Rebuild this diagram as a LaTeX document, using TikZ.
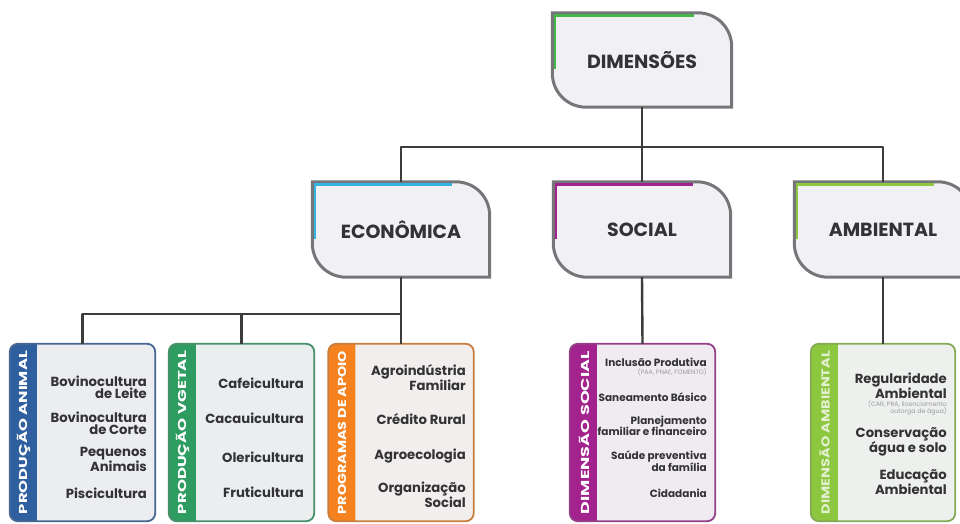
\documentclass[tikz,border=0pt]{standalone}
\usepackage{fontspec}
\usepackage{graphicx}
\setmainfont{Poppins}
\usetikzlibrary{backgrounds}
\definecolor{texto}{HTML}{333335}
\definecolor{cinzalinha}{HTML}{3C3C3C}
\definecolor{cinzaborda}{HTML}{75767A}
\definecolor{fundo}{HTML}{F1F1F3}
\definecolor{cinzanota}{HTML}{9A9A9E}
\definecolor{verdedim}{HTML}{45B649}
\definecolor{azuleco}{HTML}{34B3E0}
\definecolor{roxosoc}{HTML}{A3238E}
\definecolor{limaamb}{HTML}{8DC63F}
\definecolor{azulani}{HTML}{2F5F9E}
\definecolor{verdeveg}{HTML}{2E9C60}
\definecolor{laranja}{HTML}{F5821F}
% folha: caixa com dois cantos arredondados
\newcommand\folha[2]{%
\path[fill=fundo, draw=cinzaborda, line width=3pt]
(#1.north west) -- ([xshift=-34pt]#1.north east)
.. controls ([xshift=-15pt]#1.north east) and ([yshift=-15pt]#1.north east) .. ([yshift=-34pt]#1.north east)
-- (#1.south east) -- ([xshift=34pt]#1.south west)
.. controls ([xshift=15pt]#1.south west) and ([yshift=15pt]#1.south west) .. ([yshift=34pt]#1.south west)
-- cycle;
\draw[#2, line width=2.6pt] ([shift={(2.6pt,38pt)}]#1.south west) -- ([shift={(2.6pt,-2.6pt)}]#1.north west) -- ([shift={(-38pt,-2.6pt)}]#1.north east);}
% caixa de baixo com faixa colorida
\newcommand\caixa[2]{%
\fill[#2!3!fundo, rounded corners=8pt] (#1.north west) rectangle (#1.south east);
\begin{scope}
\clip (#1.north west) rectangle ([xshift=27pt]#1.south west);
\fill[#2, rounded corners=8pt] (#1.north west) rectangle (#1.south east);
\end{scope}
\draw[#2!65!cinzaborda, line width=1.8pt, rounded corners=8pt] (#1.north west) rectangle (#1.south east);}
\newcommand\faixa[1]{\rotatebox{90}{\resizebox{163pt}{\height}{\fontsize{11.5}{11.5}\selectfont\bfseries #1}}}
\begin{document}
\begin{tikzpicture}[x=1pt, y=-1pt, line join=round,
linha/.style={line width=2.4pt, color=cinzalinha},
nivel1/.style={minimum width=179pt, minimum height=94pt, inner sep=0pt, text=texto, font=\fontsize{19}{19}\selectfont\bfseries},
nivel2/.style={nivel1, minimum width=177pt, minimum height=95pt},
caixabaixo/.style={minimum width=145pt, minimum height=177pt, inner sep=0pt},
item/.style={anchor=east, align=right, inner sep=0pt, text=texto, font=\fontsize{13.2}{11.8}\selectfont\bfseries},
itempeq/.style={item, font=\fontsize{10.5}{11.6}\selectfont\bfseries},
nota/.style={item, text=cinzanota, font=\fontsize{6.3}{7.2}\selectfont},
rotulo/.style={inner sep=0pt, text=white}]
\clip (0,0) rectangle (960,524);
\useasboundingbox (0,0) rectangle (960,524);
\path
(642,60) node[nivel1] (dim) {DIMENSÕES}
(401,229.5) node[nivel2] (eco) {ECONÔMICA}
(642,229.5) node[nivel2] (soc) {SOCIAL}
(883,229.5) node[nivel2] (amb) {AMBIENTAL}
(82.5,432.5) node[caixabaixo] (pa) {}
(241.5,432.5) node[caixabaixo] (pv) {}
(401,432.5) node[caixabaixo] (pg) {}
(642.5,432.5) node[caixabaixo] (ds) {}
(883,432.5) node[caixabaixo, minimum width=144pt] (da) {};
\begin{scope}[on background layer]
\folha{dim}{verdedim}
\folha{eco}{azuleco}
\folha{soc}{roxosoc}
\folha{amb}{limaamb}
\caixa{pa}{azulani}
\caixa{pv}{verdeveg}
\caixa{pg}{laranja}
\caixa{ds}{roxosoc}
\caixa{da}{limaamb}
\end{scope}
% faixas
\path
(23.5,432.5) node[rotulo] (fpa) {\faixa{PRODUÇÃO ANIMAL}}
(182.5,432.5) node[rotulo] (fpv) {\faixa{PRODUÇÃO VGETAL}}
(342,432.5) node[rotulo] (fpg) {\faixa{PROGRAMAS DE APOIO}}
(584.5,432.5) node[rotulo] (fds) {\faixa{DIMENSÃO SOCIAL}}
(824.5,432.5) node[rotulo, text=limaamb!25!white] (fda) {\faixa{DIMENSÃO AMBIENTAL}};
% itens
\path
(147,387.5) node[item] (pa1) {Bovinocultura\\de Leite}
(147,423.5) node[item] (pa2) {Bovinocultura\\de Corte}
(147,459.5) node[item] (pa3) {Pequenos\\Animais}
(147,493) node[item] (pa4) {Piscicultura}
(304,383) node[item] (pv1) {Cafeicultura}
(304,418) node[item] (pv2) {Cacauicultura}
(304,457) node[item] (pv3) {Olericultura}
(304,492) node[item] (pv4) {Fruticultura}
(466,377.5) node[item] (pg1) {Agroindústria\\Familiar}
(466,419) node[item] (pg2) {Crédito Rural}
(466,456) node[item] (pg3) {Agroecologia}
(466,495) node[item] (pg4) {Organização\\Social}
(707,362) node[itempeq] (ds1) {Inclusão Produtiva}
(707,372.5) node[nota] (ds1n) {(PAA, PNAE, FOMENTO)}
(707,397) node[itempeq] (ds2) {Saneamento Básico}
(707,426) node[itempeq] (ds3) {Planejamento\\familiar e financeiro}
(707,461) node[itempeq] (ds4) {Saúde preventiva\\da família}
(707,493) node[itempeq] (ds5) {Cidadania}
(947,386) node[item] (da1) {Regularidade\\Ambiental}
(947,408) node[nota] (da1n) {(CAR, PRA, licenciamento\\outorga de água)}
(947,442) node[item] (da2) {Conservação\\água e solo}
(947,482.5) node[item] (da3) {Educação\\Ambiental};
% ligacoes
\coordinate (barra1) at (642,147);
\coordinate (barra2) at (401,314);
\draw[linha] (dim.south) -- (barra1);
\draw[linha] (eco.north) |- (barra1) -| (amb.north);
\draw[linha] (barra1) -- (soc.north);
\draw[linha] (eco.south) -- (barra2);
\draw[linha] (pa.north) |- (barra2) -- (pg.north);
\draw[linha] (pv.north) -- (pv.north |- barra2);
\draw[linha] (soc.south) -- (ds.north);
\draw[linha] (amb.south) -- (da.north);
\end{tikzpicture}
\end{document}
